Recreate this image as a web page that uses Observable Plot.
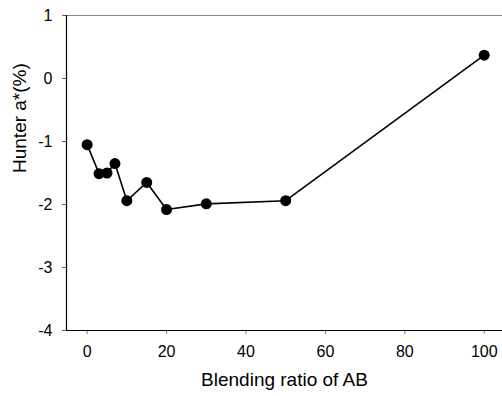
<!DOCTYPE html>
<html>
<head>
<meta charset="utf-8">
<script src="https://cdn.jsdelivr.net/npm/d3@7"></script>
<script src="https://cdn.jsdelivr.net/npm/@observablehq/plot@0.6"></script>
<style>
  html, body { margin: 0; padding: 0; background: #fff; }
  #chart svg { display: block; font-family: "Liberation Sans", Arial, sans-serif; }
</style>
</head>
<body>
<div id="chart"></div>
<script>
const ratio = [0, 3, 5, 7, 10, 15, 20, 30, 50, 100];
const hunterA = [-1.05, -1.51, -1.50, -1.35, -1.94, -1.65, -2.08, -1.99, -1.94, 0.37];
const xTicks = [0, 20, 40, 60, 80, 100];
const yTicks = [-4, -3, -2, -1, 0, 1];
const xLabel = "Blending ratio of AB";
const yLabel = "Hunter a*(%)";

const data = ratio.map((r, i) => ({x: r, y: hunterA[i]}));
const plainFormat = d => `${d}`;

const chart = Plot.plot({
  width: 502,
  height: 396,
  marginLeft: 66,
  marginRight: 0,
  marginTop: 15,
  marginBottom: 66,
  style: {fontFamily: "'Liberation Sans', Arial, sans-serif", background: "#fff", overflow: "visible"},
  x: {domain: [-5.2, 104.6]},
  y: {domain: [-4, 1]},
  marks: [
    Plot.axisX(xTicks, {tickSize: 4, tickPadding: 11, fontSize: 16, stroke: "#777", label: null, color: "#000", tickFormat: plainFormat}),
    Plot.axisY(yTicks, {tickSize: 4, tickPadding: 10, fontSize: 16, stroke: "#666", label: null, color: "#000", tickFormat: plainFormat}),
    Plot.ruleY([1], {stroke: "#888", strokeWidth: 1.2}),
    Plot.ruleY([-4], {stroke: "#000", strokeWidth: 1.2}),
    Plot.ruleX([-5.2], {stroke: "#000", strokeWidth: 1.2}),
    Plot.line(data, {x: "x", y: "y", stroke: "#000", strokeWidth: 1.6}),
    Plot.dot(data, {x: "x", y: "y", r: 5.5, fill: "#000", stroke: "none"}),
    Plot.text([xLabel], {frameAnchor: "bottom", dy: 55, fontSize: 19, fill: "#000"}),
    Plot.text([yLabel], {frameAnchor: "left", rotate: -90, dx: -47, fontSize: 19, fill: "#000"})
  ]
});
document.getElementById("chart").appendChild(chart);
</script>
</body>
</html>
